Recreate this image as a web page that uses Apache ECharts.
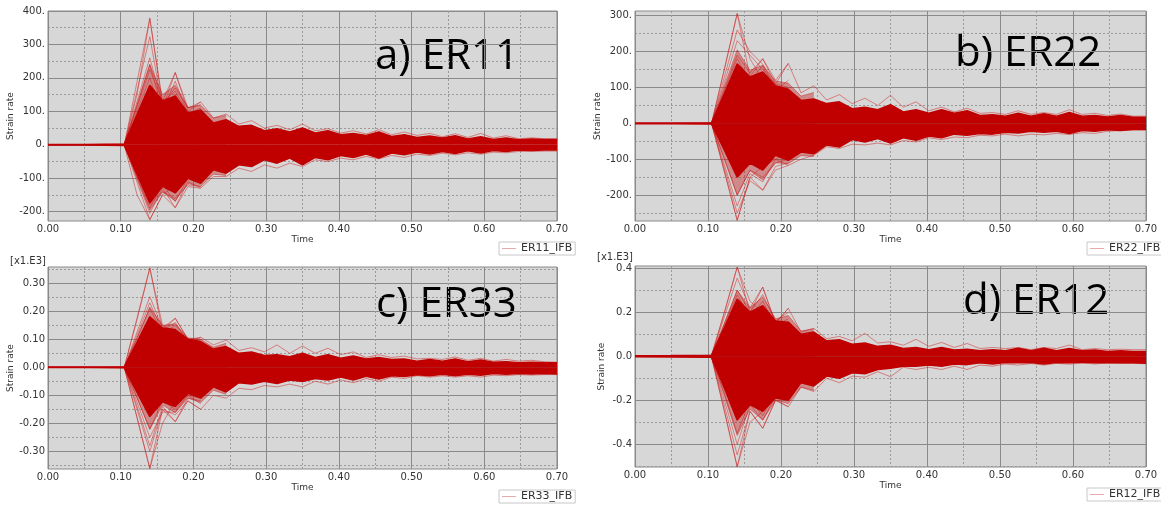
<!DOCTYPE html>
<html><head><meta charset="utf-8">
<script src="https://cdn.jsdelivr.net/npm/echarts@6/dist/echarts.min.js"></script>
<style>html,body{margin:0;padding:0;background:#fff}#c{width:1161px;height:505px}</style>
</head><body><div id="c"></div>
<script>
// ---------- shared time axis samples ----------
const time = [0, 0.05, 0.105, 0.1225, 0.14, 0.1575, 0.175, 0.1925, 0.21, 0.2275, 0.245, 0.2625, 0.28, 0.2975, 0.315, 0.3325, 0.35, 0.3675, 0.385, 0.4025, 0.42, 0.4375, 0.455, 0.4725, 0.49, 0.5075, 0.525, 0.5425, 0.56, 0.5775, 0.595, 0.6125, 0.63, 0.6475, 0.665, 0.6825, 0.70];

// ---------- a) ER11 ----------
const a_coreHi = [1, 1, 2, 90, 178, 132, 145, 95, 104, 65, 75, 55, 58, 42, 48, 38, 50, 35, 42, 30, 34, 28, 38, 25, 30, 22, 26, 20, 27, 17, 24, 16, 20, 15, 17, 16, 16];
const a_coreLo = [-1, -1, -2, -88, -174, -124, -144, -100, -115, -75, -85, -60, -65, -45, -55, -40, -60, -38, -45, -32, -38, -28, -40, -25, -30, -22, -28, -20, -26, -18, -25, -17, -20, -16, -17, -16, -16];
const a_fringeHi = [2, 120, 240, 150, 178, 112, 118, 80, 88];
const a_fringeLo = [-2, -100, -196, -142, -168, -116, -125, -88, -92];
const a_outerHi = [0, 0, 2, 150, 378, 130, 216, 110, 128, 80, 92, 62, 72, 50, 58, 45, 62, 42, 48, 35, 42, 32, 45, 30, 38, 28, 34, 24, 33, 22, 34, 20, 27, 18, 21, 18, 18];
const a_outerLo = [0, 0, -2, -150, -224, -150, -188, -125, -130, -95, -95, -70, -80, -60, -70, -55, -65, -45, -50, -40, -45, -35, -42, -32, -38, -28, -32, -25, -30, -24, -28, -22, -24, -20, -20, -19, -19];
const a_spikeUp = [[0,189,378,120,150,90,80],[0,162,323,110,216,100,128],[0,130,260,120,170,110,120],[0,120,240,100,190,90,110],[0,112,225,130,160,95,100],[0,100,200,90,150,85,95]];
const a_spikeDown = [[0,-112,-224,-150,-120,-100,-90],[0,-102,-205,-130,-188,-110,-130],[0,-95,-190,-120,-170,-100,-110],[0,-90,-180,-140,-160,-120,-125]];
const a_yMajor = [-200, -100, 0, 100, 200, 300, 400];
const a_yMinor = [-150, -50, 50, 150, 250, 350];

// ---------- b) ER22 ----------
const b_coreHi = [1, 1, 2, 83, 166, 129, 143, 105, 95, 64, 68, 55, 60, 41, 45, 38, 52, 32, 38, 28, 38, 28, 35, 22, 24, 20, 28, 20, 27, 20, 30, 20, 22, 18, 22, 17, 17];
const b_coreLo = [-1, -1, -2, -75, -150, -111, -130, -89, -103, -80, -85, -60, -66, -45, -52, -42, -55, -40, -47, -35, -40, -30, -33, -28, -30, -25, -27, -22, -25, -22, -28, -20, -22, -18, -20, -17, -17];
const b_fringeHi = [2, 105, 205, 148, 162, 118, 112, 76, 86];
const b_fringeLo = [-2, -100, -200, -132, -158, -110, -112, -90, -92];
const b_outerHi = [0, 0, 2, 150, 306, 130, 180, 120, 167, 85, 105, 65, 80, 55, 70, 50, 78, 45, 60, 35, 45, 32, 42, 28, 30, 25, 35, 25, 30, 25, 38, 25, 28, 22, 26, 20, 20];
const b_outerLo = [0, 0, -2, -135, -270, -150, -186, -130, -117, -100, -89, -65, -70, -58, -60, -55, -60, -48, -52, -40, -45, -38, -40, -33, -35, -30, -35, -30, -32, -28, -31, -26, -28, -22, -20, -18, -18];
const b_spikeUp = [[0,153,306,180,120,100,90],[0,130,260,200,165,100,90],[0,115,230,190,150,110,167],[0,95,190,140,180,110,100],[0,90,180,120,160,90,120]];
const b_spikeDown = [[0,-135,-270,-150,-120,-100,-80],[0,-125,-250,-160,-186,-120,-110],[0,-115,-230,-140,-163,-100,-117],[0,-100,-200,-130,-150,-110,-100]];
const b_yMajor = [-200, -100, 0, 100, 200, 300];
const b_yMinor = [-250, -150, -50, 50, 150, 250];

// ---------- c) ER33 ----------
const c_coreHi = [0.001, 0.001, 0.002, 0.09, 0.18, 0.14, 0.135, 0.1, 0.092, 0.065, 0.074, 0.05, 0.055, 0.042, 0.045, 0.038, 0.05, 0.035, 0.045, 0.032, 0.04, 0.03, 0.035, 0.028, 0.03, 0.022, 0.028, 0.022, 0.03, 0.02, 0.026, 0.018, 0.02, 0.016, 0.018, 0.016, 0.016];
const c_coreLo = [-0.001, -0.001, -0.002, -0.09, -0.176, -0.123, -0.14, -0.093, -0.11, -0.07, -0.088, -0.055, -0.06, -0.05, -0.058, -0.045, -0.051, -0.04, -0.045, -0.035, -0.045, -0.032, -0.042, -0.03, -0.033, -0.027, -0.03, -0.025, -0.03, -0.025, -0.028, -0.022, -0.025, -0.022, -0.024, -0.022, -0.024];
const c_fringeHi = [0.002, 0.105, 0.215, 0.15, 0.155, 0.105, 0.1, 0.072, 0.086];
const c_fringeLo = [-0.002, -0.11, -0.222, -0.135, -0.162, -0.11, -0.126, -0.082, -0.097];
const c_outerHi = [0, 0, 0.002, 0.17, 0.354, 0.13, 0.175, 0.1, 0.107, 0.08, 0.097, 0.06, 0.07, 0.055, 0.08, 0.05, 0.076, 0.05, 0.068, 0.045, 0.055, 0.035, 0.045, 0.035, 0.04, 0.03, 0.032, 0.028, 0.037, 0.025, 0.032, 0.022, 0.028, 0.022, 0.025, 0.02, 0.018];
const c_outerLo = [0, 0, -0.002, -0.18, -0.361, -0.15, -0.194, -0.12, -0.15, -0.1, -0.11, -0.075, -0.08, -0.065, -0.07, -0.06, -0.07, -0.05, -0.06, -0.045, -0.055, -0.04, -0.05, -0.035, -0.04, -0.03, -0.035, -0.03, -0.035, -0.03, -0.035, -0.028, -0.03, -0.026, -0.028, -0.026, -0.026];
const c_spikeUp = [[0,0.177,0.354,0.15,0.12,0.09,0.08],[0,0.126,0.252,0.14,0.175,0.1,0.1],[0,0.115,0.23,0.13,0.16,0.09,0.107],[0,0.105,0.21,0.12,0.15,0.1,0.09]];
const c_spikeDown = [[0,-0.18,-0.361,-0.2,-0.12,-0.1,-0.09],[0,-0.15,-0.3,-0.15,-0.17,-0.12,-0.15],[0,-0.14,-0.28,-0.14,-0.194,-0.11,-0.12],[0,-0.125,-0.25,-0.16,-0.16,-0.1,-0.13],[0,-0.11,-0.22,-0.12,-0.15,-0.1,-0.11]];
const c_yMajor = [-0.3, -0.2, -0.1, 0, 0.1, 0.2, 0.3];
const c_yMinor = [-0.35, -0.25, -0.15, -0.05, 0.05, 0.15, 0.25, 0.35];

// ---------- d) ER12 ----------
const d_coreHi = [0.002, 0.003, 0.005, 0.13, 0.26, 0.2, 0.23, 0.16, 0.155, 0.1, 0.11, 0.07, 0.075, 0.055, 0.06, 0.045, 0.05, 0.035, 0.04, 0.03, 0.04, 0.028, 0.032, 0.025, 0.03, 0.025, 0.036, 0.025, 0.036, 0.025, 0.035, 0.025, 0.028, 0.022, 0.025, 0.022, 0.022];
const d_coreLo = [-0.002, -0.003, -0.005, -0.145, -0.29, -0.22, -0.25, -0.19, -0.2, -0.12, -0.135, -0.09, -0.1, -0.075, -0.08, -0.06, -0.055, -0.045, -0.045, -0.04, -0.045, -0.035, -0.038, -0.03, -0.035, -0.028, -0.03, -0.028, -0.035, -0.028, -0.03, -0.027, -0.03, -0.028, -0.03, -0.03, -0.032];
const d_fringeHi = [0.005, 0.15, 0.3, 0.22, 0.27, 0.17, 0.185, 0.115, 0.125];
const d_fringeLo = [-0.005, -0.18, -0.36, -0.24, -0.29, -0.2, -0.215, -0.14, -0.155];
const d_outerHi = [0, 0, 0.005, 0.2, 0.405, 0.2, 0.314, 0.15, 0.218, 0.11, 0.127, 0.08, 0.09, 0.07, 0.104, 0.06, 0.066, 0.05, 0.077, 0.045, 0.063, 0.04, 0.058, 0.035, 0.04, 0.035, 0.04, 0.03, 0.04, 0.035, 0.051, 0.03, 0.035, 0.03, 0.032, 0.03, 0.03];
const d_outerLo = [0, 0, -0.005, -0.25, -0.502, -0.25, -0.327, -0.2, -0.229, -0.14, -0.16, -0.1, -0.12, -0.09, -0.095, -0.07, -0.093, -0.05, -0.06, -0.05, -0.06, -0.045, -0.06, -0.04, -0.045, -0.035, -0.04, -0.033, -0.04, -0.032, -0.036, -0.03, -0.035, -0.03, -0.033, -0.032, -0.034];
const d_spikeUp = [[0.005,0.2,0.405,0.25,0.2,0.15,0.12],[0.005,0.18,0.355,0.22,0.314,0.15,0.218],[0.005,0.15,0.3,0.2,0.28,0.16,0.2],[0.005,0.14,0.279,0.18,0.25,0.14,0.17]];
const d_spikeDown = [[-0.005,-0.25,-0.502,-0.3,-0.25,-0.18,-0.15],[-0.005,-0.225,-0.448,-0.25,-0.327,-0.2,-0.229],[-0.005,-0.2,-0.4,-0.22,-0.29,-0.18,-0.2],[-0.005,-0.17,-0.35,-0.2,-0.27,-0.16,-0.19]];
const d_yMajor = [-0.4, -0.2, 0, 0.2, 0.4];
const d_yMinor = [-0.5, -0.3, -0.1, 0.1, 0.3];

// ---------- layout / styles ----------
const panels = [
  {title:'a) ER11', legend:'ER11_IFB', hi:a_coreHi, lo:a_coreLo, fh:a_fringeHi, fl:a_fringeLo, oh:a_outerHi, ol:a_outerLo, up:a_spikeUp, dn:a_spikeDown,
   yMin:-228, yMax:400, yMajor:a_yMajor, yMinor:a_yMinor, fmt:v=>v+'.', unit:null,
   grid:{left:48, top:11, width:509, height:210}, titlePos:[375,57], legendPos:[499,242]},
  {title:'b) ER22', legend:'ER22_IFB', hi:b_coreHi, lo:b_coreLo, fh:b_fringeHi, fl:b_fringeLo, oh:b_outerHi, ol:b_outerLo, up:b_spikeUp, dn:b_spikeDown,
   yMin:-272, yMax:313, yMajor:b_yMajor, yMinor:b_yMinor, fmt:v=>v+'.', unit:null,
   grid:{left:635, top:11, width:511, height:210}, titlePos:[955,54], legendPos:[1087,242]},
  {title:'c) ER33', legend:'ER33_IFB', hi:c_coreHi, lo:c_coreLo, fh:c_fringeHi, fl:c_fringeLo, oh:c_outerHi, ol:c_outerLo, up:c_spikeUp, dn:c_spikeDown,
   yMin:-0.363, yMax:0.358, yMajor:c_yMajor, yMinor:c_yMinor, fmt:v=>v.toFixed(2), unit:[10,261],
   grid:{left:48, top:267, width:509, height:202}, titlePos:[376,305], legendPos:[499,490]},
  {title:'d) ER12', legend:'ER12_IFB', hi:d_coreHi, lo:d_coreLo, fh:d_fringeHi, fl:d_fringeLo, oh:d_outerHi, ol:d_outerLo, up:d_spikeUp, dn:d_spikeDown,
   yMin:-0.503, yMax:0.41, yMajor:d_yMajor, yMinor:d_yMinor, fmt:v=>v.toFixed(1), unit:[597,257],
   grid:{left:635, top:266, width:511, height:201}, titlePos:[963,302], legendPos:[1087,488]}
];

const FONT = 'DejaVu Sans';
const RED = '#c00000';
const TRACE = 'rgba(205,35,35,0.5)';
const FRINGE = 'rgba(195,10,10,0.38)';
const pairs = (xs, ys) => ys.map((y, k) => [xs[k], y]);

const option = {animation:false, grid:[], xAxis:[], yAxis:[], series:[], legend:[], graphic:[]};

panels.forEach((p, i) => {
  option.grid.push(Object.assign({show:true, backgroundColor:'#d7d7d7', borderColor:'#8a8a8a', borderWidth:1}, p.grid));
  option.xAxis.push({
    type:'value', gridIndex:i, min:0, max:0.7, interval:0.1,
    axisLine:{show:false}, axisTick:{show:false},
    axisLabel:{formatter:v=>v.toFixed(2), fontSize:10, color:'#333', margin:3, fontFamily:FONT},
    splitLine:{show:true, lineStyle:{color:'#8a8a8a', width:1}},
    minorTick:{show:false, splitNumber:2},
    minorSplitLine:{show:true, lineStyle:{color:'#9a9a9a', width:1, type:[2,2]}},
    name:'Time', nameLocation:'middle', nameGap:11,
    nameTextStyle:{fontSize:9, color:'#333', fontFamily:FONT}
  });
  option.yAxis.push({
    type:'value', gridIndex:i, min:p.yMin, max:p.yMax,
    axisLine:{show:false},
    axisTick:{show:false, customValues:p.yMajor},
    axisLabel:{customValues:p.yMajor, formatter:p.fmt, fontSize:10, color:'#333', margin:3, fontFamily:FONT},
    splitLine:{show:true, lineStyle:{color:'#8a8a8a', width:1}},
    name:'Strain rate', nameLocation:'middle', nameRotate:90, nameGap:29,
    nameTextStyle:{fontSize:9, color:'#333', fontFamily:FONT}
  });
  option.yAxis.push({
    type:'value', gridIndex:i, min:p.yMin, max:p.yMax, position:'left',
    axisLine:{show:false},
    axisTick:{show:false, customValues:p.yMinor},
    axisLabel:{show:false},
    splitLine:{show:true, lineStyle:{color:'#9a9a9a', width:1, type:[2,2]}}
  });
  const base = {type:'line', xAxisIndex:i, yAxisIndex:2*i, showSymbol:false, symbol:'none', silent:true};
  const tr = data => Object.assign({}, base, {data, z:2, lineStyle:{width:1, color:TRACE}, itemStyle:{color:TRACE}});
  const st = time.slice(2);
  p.up.forEach(arr => option.series.push(tr(pairs(st, arr))));
  p.dn.forEach(arr => option.series.push(tr(pairs(st, arr))));
  option.series.push(Object.assign(tr(pairs(time, p.oh)), {name:p.legend}));
  option.series.push(tr(pairs(time, p.ol)));
  const fr = data => Object.assign({}, base, {data, z:2, lineStyle:{width:1, color:FRINGE}, itemStyle:{color:FRINGE}, areaStyle:{color:FRINGE, opacity:1}});
  option.series.push(fr(pairs(st, p.fh)));
  option.series.push(fr(pairs(st, p.fl)));
  const core = data => Object.assign({}, base, {data, z:3, lineStyle:{width:1.5, color:RED}, itemStyle:{color:RED}, areaStyle:{color:RED, opacity:1}});
  option.series.push(core(pairs(time, p.hi)));
  option.series.push(core(pairs(time, p.lo)));

  option.legend.push({
    show:true, left:p.legendPos[0], top:p.legendPos[1], orient:'horizontal',
    data:[{name:p.legend, icon:'rect', itemStyle:{color:'rgba(225,150,150,0.8)'}}],
    itemWidth:14, itemHeight:1, itemGap:0, selectedMode:false,
    backgroundColor:'#fff', borderColor:'#c8c8c8', borderWidth:1, borderRadius:0, padding:[1,3,1,3],
    textStyle:{fontSize:11, color:'#333', fontFamily:FONT}
  });
  option.graphic.push({type:'text', x:p.titlePos[0], y:p.titlePos[1], silent:true,
    style:{text:p.title, font:'42px "Open Sans"', fill:'#000', align:'left', verticalAlign:'middle'}});
  if (p.unit) option.graphic.push({type:'text', x:p.unit[0], y:p.unit[1], silent:true,
    style:{text:'[x1.E3]', font:'10px "DejaVu Sans"', fill:'#333', align:'left', verticalAlign:'middle'}});
});

const chart = echarts.init(document.getElementById('c'), null, {renderer:'canvas'});
chart.setOption(option);
</script>
</body></html>
